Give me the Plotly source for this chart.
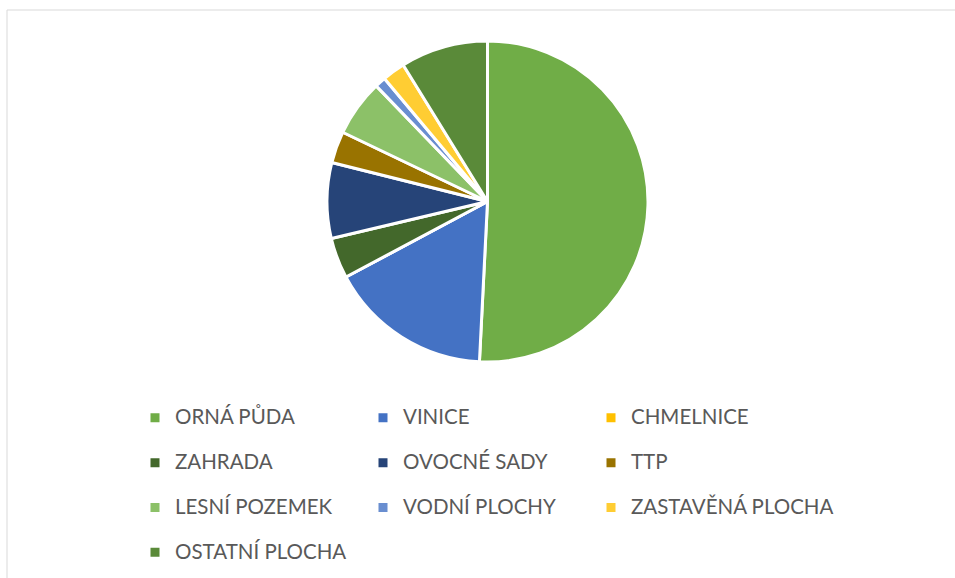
import plotly.graph_objects as go

categories = ["ORNÁ PŮDA", "VINICE", "CHMELNICE", "ZAHRADA", "OVOCNÉ SADY", "TTP",
              "LESNÍ POZEMEK", "VODNÍ PLOCHY", "ZASTAVĚNÁ PLOCHA", "OSTATNÍ PLOCHA"]
values = [50.8, 16.4, 0.0, 4.1, 7.6, 3.2, 5.7, 1.1, 2.3, 8.8]
colors = ["#70AD47", "#4472C4", "#FFC000", "#43682B", "#264478", "#997300",
          "#8CC168", "#698ED0", "#FFCD33", "#5A8A39"]

W, H = 955, 578
ML, MR = 50, 50
PW = W - ML - MR
NCOL = 3

def px_x(x):
    return (x - ML) / PW

def px_y(y):
    return 1 - y / H

last_row = (len(categories) - 1) // NCOL
legend_labels = []
for i, c in enumerate(categories):
    txt = '<span style="font-size:20.5px">%s</span>' % c
    if i // NCOL < last_row:
        txt += "<br> "   # extra blank line gives the taller legend rows
    legend_labels.append(txt)

fig = go.Figure(go.Pie(
    labels=legend_labels,
    values=values,
    sort=False,
    direction="clockwise",
    rotation=0,
    marker=dict(colors=colors, line=dict(color="white", width=3)),
    textinfo="none",
    hoverinfo="none",
    domain=dict(x=[px_x(327), px_x(648)], y=[px_y(362), px_y(41)]),
))

fig.update_layout(
    width=W, height=H,
    margin=dict(l=ML, r=MR, t=0, b=0),
    paper_bgcolor="white",
    plot_bgcolor="white",
    font=dict(family="Lato, sans-serif", color="#595959"),
    legend=dict(
        orientation="h",
        x=px_x(135), xanchor="left",
        y=px_y(399.5), yanchor="top",
        entrywidth=183,
        valign="top",
        font=dict(family="Lato, sans-serif", size=16.1, color="#595959"),
        bgcolor="rgba(0,0,0,0)",
        title=dict(text='<span style="font-size:40px">' + "&nbsp;" * 30 + "</span>",
                   side="top",
                   font=dict(family="DejaVu Sans Mono", size=1, color="rgba(0,0,0,0)")),
    ),
    shapes=[dict(type="rect", xref="paper", yref="paper",
                 x0=px_x(7), x1=px_x(975), y0=px_y(600), y1=px_y(10),
                 line=dict(color="#D9D9D9", width=1), fillcolor="rgba(0,0,0,0)",
                 layer="below")],
)

fig.write_html("out.html",
               config={"displayModeBar": False},
               post_script="document.body.style.margin='0';document.body.style.overflow='hidden';")
